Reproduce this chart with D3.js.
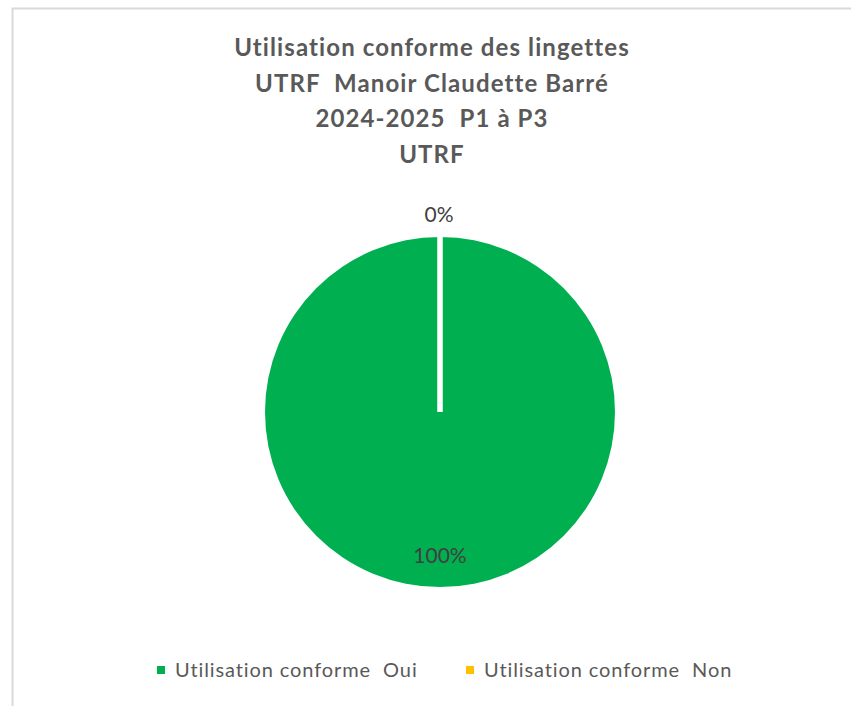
<!DOCTYPE html>
<meta charset="utf-8">
<style>
body { margin: 0; background: #fff; overflow: hidden; }
.title { font: bold 24px Lato, "Open Sans", sans-serif; letter-spacing: 1.1px; fill: #595959; white-space: pre; }
.lbl { font: 21px Lato, "Open Sans", sans-serif; fill: #404040; }
.legend text { font: 20px Lato, "Open Sans", sans-serif; letter-spacing: 0.9px; fill: #595959; white-space: pre; }
</style>
<div id="chart"></div>
<script src="https://cdn.jsdelivr.net/npm/d3@7/dist/d3.min.js"></script>
<script>

// chart data
var titleLines = ["Utilisation conforme des lingettes", "UTRF  Manoir Claudette Barré", "2024-2025  P1 à P3", "UTRF"];
var categories = ["Utilisation conforme  Oui", "Utilisation conforme  Non"];
var values = [100, 0];
var labels = ["100%", "0%"];
var colors = ["#00B050", "#FFC000"];

var width = 851, height = 706;
var cx = 440, cy = 412, radius = 175;

var svg = d3.select("#chart").append("svg")
    .attr("width", width)
    .attr("height", height);

// chart frame (runs off the right and bottom edges)
svg.append("rect")
    .attr("x", 12.5).attr("y", 8.5)
    .attr("width", 900).attr("height", 800)
    .attr("fill", "#fff")
    .attr("stroke", "#d9d9d9")
    .attr("stroke-width", 2);

svg.selectAll("text.title").data(titleLines).enter().append("text")
    .attr("class", "title")
    .attr("x", 432)
    .attr("y", (d, i) => 56 + i * 35.5)
    .attr("text-anchor", "middle")
    .text(d => d);

var pie = d3.pie().sort(null).value(d => d);
var arcs = pie(values);
var arc = d3.arc().innerRadius(0).outerRadius(radius);

var g = svg.append("g").attr("transform", `translate(${cx},${cy})`);

g.selectAll("path.slice").data(arcs).enter().append("path")
    .attr("class", "slice")
    .attr("d", arc)
    .attr("fill", (d, i) => colors[i]);

// white slice borders (radial edges at each slice start)
g.selectAll("line.edge").data(arcs).enter().append("line")
    .attr("class", "edge")
    .attr("x1", 0).attr("y1", 0)
    .attr("x2", d => radius * Math.sin(d.startAngle))
    .attr("y2", d => -radius * Math.cos(d.startAngle))
    .attr("stroke", "#fff")
    .attr("stroke-width", 5);

// data labels: big slice inside, empty slice outside
var labelRadius = [144, 197];
g.selectAll("text.lbl").data(arcs).enter().append("text")
    .attr("class", "lbl")
    .attr("text-anchor", "middle")
    .attr("dy", "0.35em")
    .attr("x", (d, i) => {
        var a = (d.startAngle + d.endAngle) / 2;
        return labelRadius[i] * Math.sin(a) - (i == 1 ? 1 : 0);
    })
    .attr("y", (d, i) => {
        var a = (d.startAngle + d.endAngle) / 2;
        return -labelRadius[i] * Math.cos(a);
    })
    .text((d, i) => labels[i]);

// legend
var legendX = [157, 466];
var leg = svg.append("g").attr("class", "legend");
var item = leg.selectAll("g").data(categories).enter().append("g")
    .attr("transform", (d, i) => `translate(${legendX[i]},670)`);
item.append("rect")
    .attr("x", 0).attr("y", -4)
    .attr("width", 8).attr("height", 8)
    .attr("fill", (d, i) => colors[i]);
item.append("text")
    .attr("x", 18)
    .attr("dy", "0.35em")
    .text(d => d);

</script>
